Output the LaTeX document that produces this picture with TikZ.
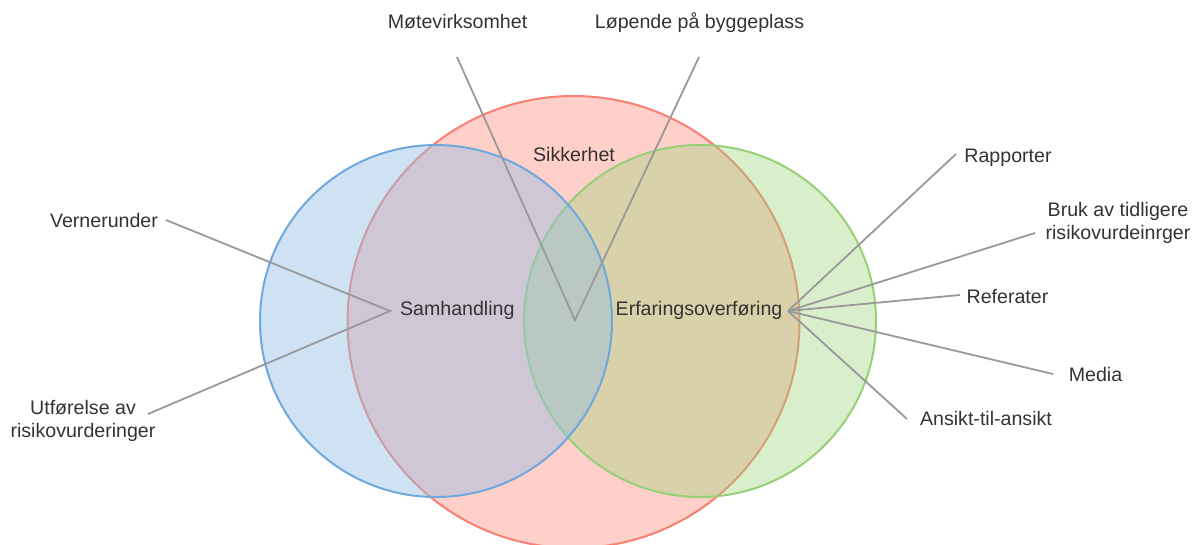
\documentclass[tikz,border=0pt]{standalone}
\usepackage{fontspec}
\setmainfont{Liberation Sans}
\definecolor{safetyfill}{RGB}{255,207,201}
\definecolor{safetyline}{RGB}{248,128,114}
\definecolor{collabfill}{RGB}{149,191,229}
\definecolor{collabline}{RGB}{111,168,220}
\definecolor{transferfill}{RGB}{160,212,125}
\definecolor{transferline}{RGB}{151,208,119}
\definecolor{linkgrey}{RGB}{153,153,153}
\definecolor{labeltext}{RGB}{51,51,51}
\begin{document}
\begin{tikzpicture}[x=1pt,y=-1pt,
  label/.style={font=\fontsize{19.6}{23}\selectfont, text=labeltext, inner sep=0pt, anchor=base, align=center},
  link/.style={draw=linkgrey, line width=1.8pt},
  set/.style={line width=2pt}]
\useasboundingbox (0,0) rectangle (1199,544);

% the three sets
\path[set, fill=safetyfill, draw=safetyline] (573.5,322) circle[radius=226pt];
\path[set, fill=transferfill, fill opacity=0.4, draw=transferline] (700,321) circle[radius=176pt];
\path[set, fill=collabfill, fill opacity=0.45, draw=collabline] (436,321) circle[radius=176pt];

% hubs the links meet at
\coordinate (mid) at (575,320);
\coordinate (sam) at (390,311);
\coordinate (erf) at (788,311);

% free ends of the links, beside their labels
\coordinate (moteEnd) at (457,57);
\coordinate (lopEnd) at (699,57);
\coordinate (vernEnd) at (166,220);
\coordinate (utfEnd) at (148,414);
\coordinate (rappEnd) at (956,154);
\coordinate (brukEnd) at (1035,233);
\coordinate (refEnd) at (960,295);
\coordinate (mediaEnd) at (1053,374);
\coordinate (ansEnd) at (907,419);

\draw[link] (moteEnd) -- (mid) -- (lopEnd);
\draw[link] (vernEnd) -- (sam) -- (utfEnd);
\draw[link] (erf) -- (rappEnd);
\draw[link] (erf) -- (brukEnd);
\draw[link] (erf) -- (refEnd);
\draw[link] (erf) -- (mediaEnd);
\draw[link] (erf) -- (ansEnd);

% labels (two-line labels are placed by the baseline of their last line)
\node[label] (mote) at (457.5,28) {Møtevirksomhet};
\node[label] (lop) at (699.5,28) {Løpende på byggeplass};
\node[label] (sikk) at (574,161) {Sikkerhet};
\node[label] (samh) at (457.3,315) {Samhandling};
\node[label] (erfa) at (699,315) {Erfaringsoverføring};
\node[label] (vern) at (104,227) {Vernerunder};
\node[label] (utf) at (83,437) {Utførelse av\\risikovurderinger};
\node[label] (rapp) at (1008,162) {Rapporter};
\node[label] (bruk) at (1118,239) {Bruk av tidligere\\risikovurdeinrger};
\node[label] (ref) at (1007.5,303) {Referater};
\node[label] (media) at (1095.5,381) {Media};
\node[label] (ans) at (986,425) {Ansikt-til-ansikt};
\end{tikzpicture}
\end{document}
